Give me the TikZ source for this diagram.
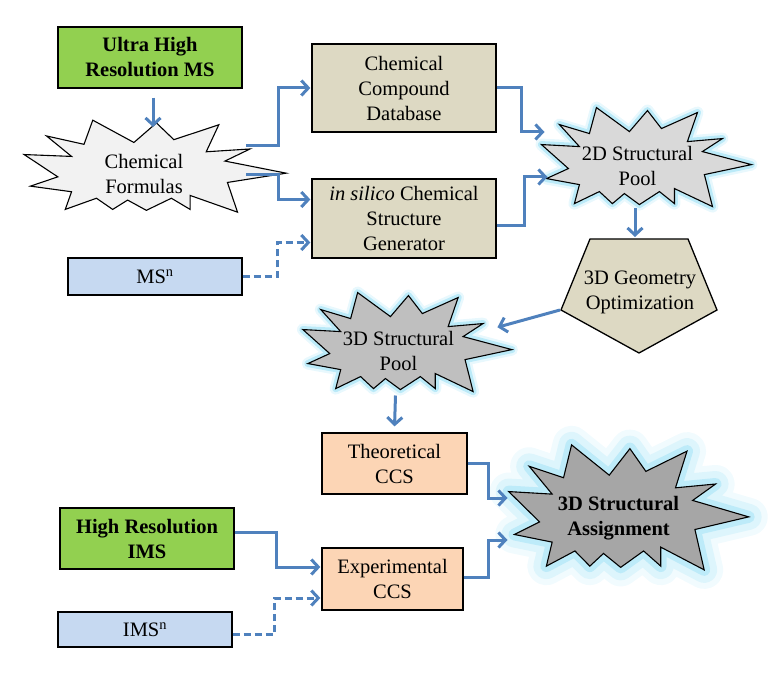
\documentclass[tikz,border=0pt]{standalone}
\usepackage{fontspec}
\setmainfont{Liberation Serif}
\usetikzlibrary{arrows.meta,backgrounds,positioning}
\definecolor{msgreen}{HTML}{92D050}
\definecolor{dbtan}{HTML}{DDD9C3}
\definecolor{msblue}{HTML}{C6D9F1}
\definecolor{ccspeach}{HTML}{FCD5B5}
\definecolor{flowblue}{HTML}{4F81BD}
\definecolor{glowcyan}{HTML}{8EDCF4}
\tikzset{
box/.style={draw=black, line width=1.3pt, align=center, inner sep=0pt, font=\fontsize{20.5}{25}\selectfont},
txt/.style={align=center, inner sep=0pt, font=\fontsize{20.5}{25}\selectfont},
flow/.style={draw=flowblue, line width=3pt, -{Straight Barb[length=7pt,width=15pt]}, shorten >=1pt},
opt/.style={flow, dash pattern=on 7pt off 4pt},
burst/.style={draw=black, line width=1.1pt},
glow/.style={preaction={draw=glowcyan, line width=12pt, line join=round, opacity=.2},
preaction={draw=glowcyan, line width=7pt, line join=round, opacity=.5}},
bigglow/.style={preaction={draw=glowcyan, line width=38pt, line join=round, opacity=.12},
preaction={draw=glowcyan, line width=26pt, line join=round, opacity=.2},
preaction={draw=glowcyan, line width=12pt, line join=round, opacity=.4}}
}
\def\burstpts{(-0.391,-1.17) -- (-0.077,-0.685) -- (0.095,-1.11) -- (0.228,-0.746) -- (0.571,-1.07) -- (0.475,-0.483) -- (0.809,-0.544) -- (0.618,-0.281) -- (1.085,-0.018) -- (0.637,0.184) -- (0.714,0.83) -- (0.352,0.466) -- (0.352,0.77) -- (0.209,0.527) -- (0.018,0.79) -- (-0.125,0.567) -- (-0.239,0.77) -- (-0.363,0.527) -- (-0.601,0.77) -- (-0.553,0.386) -- (-0.867,0.264) -- (-0.658,0.062) -- (-0.915,-0.423) -- (-0.553,-0.382) -- (-0.744,-0.827) -- (-0.458,-0.645)}
\newcommand\burst[4]{\path[burst,#4,shift={(#1.center)},xscale=#2,yscale=#3] \burstpts -- cycle;}

\begin{document}
\begin{tikzpicture}[x=1pt,y=-1pt]
\useasboundingbox (0,0) rectangle (777,679);
\node[box, fill=msgreen, minimum width=184, minimum height=61, font=\fontsize{20.5}{25}\selectfont\bfseries] (uhr) at (150,57.5) {Ultra High\\Resolution MS};
\node[txt] (form) at (144,174) {Chemical\\Formulas};
\node[box, fill=dbtan, minimum width=184, minimum height=88] (db) at (404,88) {Chemical\\Compound\\Database};
\node[box, fill=dbtan, minimum width=184, minimum height=79] (gen) at (404,218.5) {\textit{in silico} Chemical\\Structure\\Generator};
\node[box, fill=msblue, minimum width=174, minimum height=37] (msn) at (155,276.5) {MS\textsuperscript{n}};
\node[txt] (pool2) at (637.5,165.5) {2D Structural\\Pool};
\node[txt] (geom) at (640,292.5) {3D Geometry\\Optimization};
\node[txt] (pool3) at (398.5,350.5) {3D Structural\\Pool};
\node[box, fill=ccspeach, minimum width=145, minimum height=61] (theo) at (394.5,463.5) {Theoretical\\CCS};
\node[box, fill=ccspeach, minimum width=141, minimum height=62] (expc) at (392.5,579) {Experimental\\CCS};
\node[box, fill=msgreen, minimum width=174, minimum height=61, font=\fontsize{20.5}{25}\selectfont\bfseries] (hrims) at (147,538.5) {High Resolution\\IMS};
\node[box, fill=msblue, minimum width=174, minimum height=35] (imsn) at (145,629.5) {IMS\textsuperscript{n}};
\node[txt, font=\fontsize{20.5}{25}\selectfont\bfseries] (asg) at (618.5,518) {3D Structural\\Assignment};

\begin{scope}[on background layer]
\burst{form}{131}{46}{fill=black!5}
\burst{pool2}{105}{49.5}{fill=black!15, glow}
\path[box, fill=dbtan, shift={(geom.center)}] (-50,-53.5) -- (48,-53.5) -- (77,17.5) -- (-1,60.5) -- (-79,17.5) -- cycle;
\burst{pool3}{104.5}{49.5}{fill=black!25, glow}
\burst{asg}{120}{62.5}{fill=black!35, bigglow}
\end{scope}

\draw[flow] ([shift={(3,9)}]uhr.south) -- ([shift={(9,-46)}]form.center);
\draw[flow] ([shift={(102,-28)}]form.center) -- ++(32,0) |- (db.west);
\draw[flow] ([shift={(102,1)}]form.center) -- ++(32,0) |- ([shift={(0,-19)}]gen.west);
\draw[opt] (msn.east) -- ++(35,0) |- ([shift={(0,24)}]gen.west);
\draw[flow] (db.east) -- ++(25,0) |- ([shift={(-92,-33.5)}]pool2.center);
\draw[flow] ([shift={(0,7.5)}]gen.east) -- ++(28,0) |- ([shift={(-89,11.5)}]pool2.center);
\draw[flow] ([shift={(-2.5,42.5)}]pool2.center) -- ([shift={(-5,-54.5)}]geom.center);
\draw[flow] ([shift={(-80,17.5)}]geom.center) -- ([shift={(98,-23)}]pool3.center);
\draw[flow] ([shift={(-3,45)}]pool3.center) -- ([yshift=5pt]theo.north);
\draw[flow] (theo.east) -- ++(21,0) |- ([shift={(-110,-20)}]asg.center);
\draw[flow] ([shift={(0,-2)}]expc.east) -- ++(25,0) |- ([shift={(-110,22)}]asg.center);
\draw[flow] ([shift={(0,-6.5)}]hrims.east) -- ++(42,0) |- ([shift={(0,-12)}]expc.west);
\draw[opt] ([shift={(0,4.5)}]imsn.east) -- ++(42,0) |- ([shift={(0,19)}]expc.west);
\end{tikzpicture}
\end{document}
